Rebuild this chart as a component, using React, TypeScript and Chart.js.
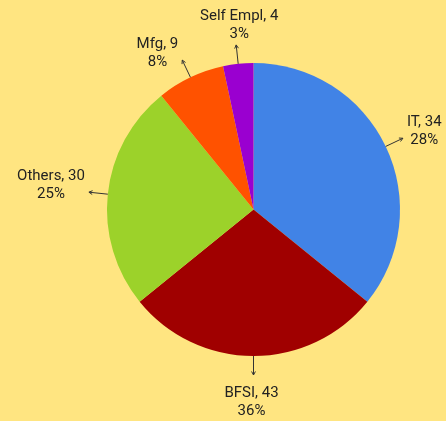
import React, { useEffect, useRef } from "react";
import { Chart, registerables } from "chart.js";

Chart.register(...registerables);

const categories = ["IT", "BFSI", "Others", "Mfg", "Self Empl"];
// slice sizes as drawn in the picture
const sliceValues = [43, 34, 30, 9, 4];
// values and percentages printed in the labels
const labelValues = [34, 43, 30, 9, 4];
const labelPercents = [28, 36, 25, 8, 3];
const sliceColors = ["#4183E6", "#A00000", "#9CD22A", "#FF5200", "#9A00D0"];

const BG = "#FFE581";
const FONT = "15px Roboto";

const labelPlugin = {
  id: "arrowLabels",
  afterDatasetsDraw(chart: any) {
    const ctx = chart.ctx;
    const meta = chart.getDatasetMeta(0);
    ctx.save();
    ctx.font = FONT;
    ctx.fillStyle = "#222";
    ctx.strokeStyle = "#333";
    ctx.lineWidth = 1;
    const lineH = 18;
    meta.data.forEach((arc: any, i: number) => {
      const { x, y, startAngle, endAngle, outerRadius } = arc.getProps(
        ["x", "y", "startAngle", "endAngle", "outerRadius"],
        true
      );
      const mid = (startAngle + endAngle) / 2;
      const c = Math.cos(mid);
      const s = Math.sin(mid);
      const L = 19;
      const px = x + outerRadius * c;
      const py = y + outerRadius * s;
      const ex = x + (outerRadius + L) * c;
      const ey = y + (outerRadius + L) * s;
      ctx.beginPath();
      ctx.moveTo(px, py);
      ctx.lineTo(ex, ey);
      ctx.stroke();
      const ang = Math.atan2(ey - py, ex - px);
      const h = 4;
      ctx.beginPath();
      ctx.moveTo(ex - h * Math.cos(ang - 0.5), ey - h * Math.sin(ang - 0.5));
      ctx.lineTo(ex, ey);
      ctx.lineTo(ex - h * Math.cos(ang + 0.5), ey - h * Math.sin(ang + 0.5));
      ctx.stroke();

      const lines = [
        `${categories[i]}, ${labelValues[i]}`,
        `${labelPercents[i]}%`,
      ];
      const w = Math.max(...lines.map((t) => ctx.measureText(t).width));
      let tx: number;
      let cy: number;
      ctx.textBaseline = "middle";
      ctx.textAlign = "center";
      if (Math.abs(c) > 0.3) {
        if (c > 0) {
          tx = ex + 4 + w / 2;
          cy = ey - 7;
        } else {
          tx = ex - 4 - w / 2;
          cy = ey - 7;
        }
      } else {
        if (s < 0) {
          tx = ex + 3;
          cy = ey - 2 - lineH;
        } else {
          tx = ex - 2;
          cy = ey + 9 + lineH;
        }
      }
      ctx.fillText(lines[0], tx, cy - lineH / 2);
      ctx.fillText(lines[1], tx, cy + lineH / 2);
    });
    ctx.restore();
  },
};

export default function App() {
  const ref = useRef<HTMLCanvasElement>(null);
  useEffect(() => {
    document.body.style.margin = "0";
    const chart = new Chart(ref.current!, {
      type: "pie",
      data: {
        labels: categories,
        datasets: [
          {
            data: sliceValues,
            backgroundColor: sliceColors,
            borderWidth: 0,
            hoverOffset: 0,
            offset: 0,
          },
        ],
      },
      options: {
        responsive: false,
        animation: false,
        devicePixelRatio: 1,
        layout: { padding: { left: 107, right: 46, top: 63, bottom: 65 } },
        plugins: {
          legend: { display: false },
          tooltip: { enabled: false },
        },
      },
      plugins: [labelPlugin],
    });
    return () => chart.destroy();
  }, []);
  return (
    <div style={{ width: 446, height: 421, background: BG, position: "absolute", left: 0, top: 0 }}>
      <canvas ref={ref} width={446} height={421} style={{ display: "block" }} />
    </div>
  );
}
